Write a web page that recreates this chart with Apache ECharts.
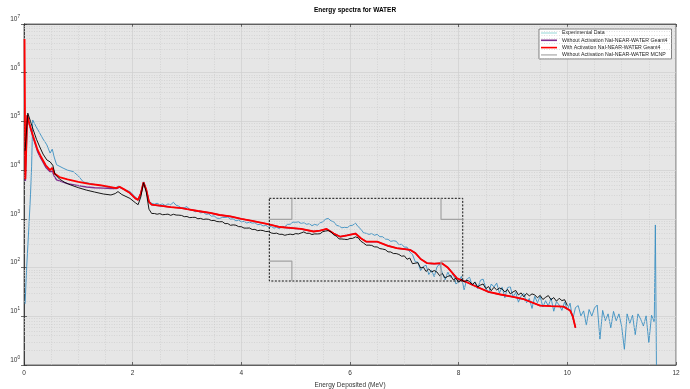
<!DOCTYPE html>
<html><head><meta charset="utf-8">
<script src="https://cdn.jsdelivr.net/npm/echarts@6/dist/echarts.min.js"></script>
<style>html,body{margin:0;padding:0;background:#fff}#c{width:690px;height:389px}</style>
</head><body><div id="c"></div>
<script>
// ---------- data (energy in MeV, counts) ----------
const seriesNames = ['Experimental Data','Without Activation NaI-NEAR-WATER Geant4','With Activation NaI-NEAR-WATER Geant4','Without Activation NaI-NEAR-WATER MCNP'];
const xTicks = [0,2,4,6,8,10,12];

// Experimental data
const expLowE = [0.02,0.05,0.09,0.12,0.14,0.16,0.22,0.29,0.35,0.42,0.48,0.52,0.56,0.6,0.72,0.8,0.91,0.96,1.0,1.03,1.09,1.2,1.34,1.5,1.65,1.74,1.8,1.95,2.05,2.1,2.15,2.2,2.25,2.3];
const expLowCounts = [18,105,690,3200,11700,107000,79000,57500,43600,33100,22400,26900,17800,12900,11000,10000,9300,8300,7600,7900,5750,5370,5000,4570,4170,4680,4170,3630,2820,2510,3390,5750,3980,2290];
const expBinStart = 2.35, expBinStep = 0.05;
const expBinCounts = [
2090,2000,2090,1950,2020,1880,2020,1950,2190,1900,1820,1660,1700,1780,
1550,1510,1400,1450,1330,1360,1240,1260,1135,1150,1035,1020,1070,1070,1085,990,1000,910,945,870,
890,820,860,815,830,760,775,715,735,675,700,645,670,630,700,690,770,775,860,850,
870,805,830,775,795,725,770,740,830,870,990,1020,910,870,740,710,655,670,660,725,
740,820,690,615,515,505,480,500,460,480,430,430,385,380,345,
355,347,295,302,
263,263,209,186,132,129,87,105,112,72,89,65,102,120,76,56,81,63,76,46,
51,66,35,58,63,43,51,37,55,58,38,30,46,40,48,30,40,24,39,40,
25,31,19.5,26.3,29.5,19,23.2,14.5,25.7,19,25.7,15.5,20.9,16.2,23.7,12.7,20,17,13.2,19.7,
13.5,18.6,8.7,15.1,16.6,10.2,12.9,6.6,13.8,10.1,14.8,17,3.4,13.2,8.1,11.2,5.8,12.6,8.1,11.2,
6.2,2.1,11.2,7.2,10.5,4.2,11.2,8.7,6.3,10.2,2.9,10.5,7.6];
const expEndE = [11.62,11.64];
const expEndCounts = [750,1];

// Geant4 without activation
const g4NoActE = [0.025,0.06,0.1,0.17,0.25,0.3,0.4,0.48,0.52,0.56,0.6,0.8,1.0,1.15,1.3,1.46,1.6,1.7,1.76,1.85,1.95,2.05,2.1,2.15,2.2,2.25,2.3,2.35,2.5,2.7,2.9,3.0,3.2,3.43,3.6,3.8,4.0,4.2,4.47,4.71,4.9,5.1,5.33,5.45,5.57,5.7,5.82,5.95,6.1,6.2,6.3,6.5,6.7,6.86,7.0,7.11,7.2,7.3,7.42,7.55,7.69,7.8,7.97,8.15,8.34,8.55,8.77,9.0,9.2,9.5,9.7,9.93,10.05,10.1,10.15];
const g4NoActCounts = [6000,130000,85000,46000,24000,18500,11500,9300,9500,7400,6300,5300,4800,4500,4350,4270,4200,4170,4500,3980,3390,2630,2450,3310,5620,3980,2240,1950,1860,1740,1660,1580,1450,1320,1200,1120,1000,910,790,680,650,620,550,575,620,500,430,460,500,400,340,340,280,250,240,230,200,150,123,120,123,100,60,50,40,31.6,28,25,22.4,16.6,16.2,15.8,13.2,10,5.8];

// Geant4 with activation
const g4ActE = [0.01,0.025,0.06,0.1,0.17,0.25,0.3,0.4,0.48,0.52,0.56,0.65,0.8,1.0,1.2,1.4,1.6,1.7,1.76,1.85,1.95,2.05,2.1,2.15,2.2,2.25,2.3,2.35,2.5,2.7,2.9,3.0,3.2,3.43,3.6,3.8,4.0,4.2,4.47,4.71,4.9,5.1,5.33,5.45,5.57,5.7,5.82,5.95,6.1,6.2,6.3,6.5,6.7,6.86,7.0,7.11,7.2,7.3,7.42,7.55,7.69,7.8,7.97,8.15,8.34,8.55,8.77,9.0,9.2,9.5,9.7,9.93,10.05,10.1,10.15];
const g4ActCounts = [4.9e6,6500,135000,89000,49000,26000,20000,12600,10000,11200,8500,7200,6500,5750,5250,4900,4470,4270,4570,3980,3390,2630,2450,3310,5620,3980,2240,1950,1860,1740,1660,1580,1450,1320,1200,1120,1000,910,790,680,650,620,550,575,620,500,430,460,500,400,340,340,280,250,240,230,200,150,123,120,123,100,60,50,40,31.6,28,25,22.4,16.6,16.2,15.8,13.2,10,5.8];

// MCNP without activation
const mcnpLowE = [0.02,0.07,0.12,0.17,0.23,0.29,0.35,0.42,0.48,0.5,0.53,0.57,0.65,0.75,0.85,1.0,1.15,1.3,1.46,1.6,1.68,1.73,1.8,1.95,2.05,2.1,2.15,2.2,2.25,2.3,2.35];
const mcnpLowCounts = [25000,148000,100000,67000,43000,30000,21400,16200,14800,15100,12600,8300,6600,5600,5000,4370,3890,3550,3240,3090,3310,3630,3160,2630,2140,1950,2820,5500,3550,1580,1290];
const mcnpBinStart = 2.40, mcnpBinStep = 0.05;
const mcnpBinCounts = [
1288,1245,1282,1216,1230,1250,1180,1242,1197,1191,1175,1109,
1117,1059,1072,1076,1005,1021,973,991,977,922,930,881,871,875,797,802,738,752,741,692,
690,646,646,649,605,608,572,584,575,549,553,513,501,509,481,483,460,475,485,473,
499,490,513,539,504,506,477,491,490,495,547,562,575,540,470,441,387,386,380,375,
396,398,427,409,347,319,288,289,285,266,265,245,240,233,210,209,194,194,186,171,
174,148,157,120,123,126,98,102,83,94,81,87,81,68,76,61,66,69,56,60,
50,57,51,55,52,45,50,40,43.7,46,37,40.7,33.5,39.4,34.7,38,36.3,31.6,35.5,28.8,
31.6,33.9,27.5,30.2,25.1,29.5,26.3,28.8,27.5,24,26.9,22.1,24.5,26.6,21.9,24.2,20.4,23.4,21,21.9,
16.6];

// zoom box annotation (MeV, counts)
const boxE = [4.515, 8.075];
const boxCounts = [53, 2640];
const bracketE = [4.93, 7.675];
const bracketCounts = [136, 980];

// ---------- build ----------
function pairs(xs, ys){ return xs.map((x,i)=>[x, ys[i]]); }
function binPairs(start, step, ys){ return ys.map((y,i)=>[+(start+i*step).toFixed(3), y]); }

const expData = pairs(expLowE, expLowCounts).concat(binPairs(expBinStart, expBinStep, expBinCounts), pairs(expEndE, expEndCounts));
const g4NoActData = pairs(g4NoActE, g4NoActCounts);
const g4ActData = pairs(g4ActE, g4ActCounts);
const mcnpData = pairs(mcnpLowE, mcnpLowCounts).concat(binPairs(mcnpBinStart, mcnpBinStep, mcnpBinCounts));

const boxData = [[boxE[0],boxCounts[1]],[boxE[1],boxCounts[1]],[boxE[1],boxCounts[0]],[boxE[0],boxCounts[0]],[boxE[0],boxCounts[1]]];
const brackets = [
  [[boxE[0],bracketCounts[1]],[bracketE[0],bracketCounts[1]],[bracketE[0],boxCounts[1]]],
  [[boxE[1],bracketCounts[1]],[bracketE[1],bracketCounts[1]],[bracketE[1],boxCounts[1]]],
  [[boxE[0],bracketCounts[0]],[bracketE[0],bracketCounts[0]],[bracketE[0],boxCounts[0]]],
  [[boxE[1],bracketCounts[0]],[bracketE[1],bracketCounts[0]],[bracketE[1],boxCounts[0]]]
];

const minorY = [];
for (let n = 0; n < 7; n++) for (let k = 2; k <= 9; k++) minorY.push({yAxis: k * Math.pow(10, n)});

const FONT = 'Liberation Sans';
const chart = echarts.init(document.getElementById('c'), null, {renderer: 'canvas'});

const supLabel = {
  formatter: v => '10{s|' + Math.round(Math.log10(v)) + '}',
  rich: { s: {fontSize: 4.6, verticalAlign: 'top', lineHeight: 10, fontFamily: FONT, color: '#333'} },
  fontSize: 6.5, lineHeight: 10, verticalAlign: 'bottom', color: '#333', fontFamily: FONT, margin: 4
};

const lineSeries = (name, data, color, width, z) => ({
  name, type: 'line', data, showSymbol: false, symbol: 'none', z,
  lineStyle: {color, width}, itemStyle: {color}, silent: true, animation: false
});

const series = [
  {
    name: 'minor', type: 'line', data: [], z: 1, silent: true,
    markLine: {silent: true, symbol: ['none','none'], label: {show: false}, animation: false,
      lineStyle: {type: [1,1.5], color: '#c9c9c9', width: 0.6}, data: minorY}
  },
  lineSeries(seriesNames[0], expData, '#3a8ec2', 0.9, 3),
  lineSeries(seriesNames[1], g4NoActData, '#7e2f8e', 1.4, 4),
  lineSeries(seriesNames[2], g4ActData, '#ff0000', 1.8, 5),
  lineSeries(seriesNames[3], mcnpData, '#000000', 0.9, 6),
  {name: 'box', type: 'line', data: boxData, symbol: 'none', z: 7, silent: true,
   lineStyle: {color: '#111', width: 1, type: [2, 1.5]}}
].concat(brackets.map((b,i) => ({name: 'br' + i, type: 'line', data: b, symbol: 'none', z: 7, silent: true,
   lineStyle: {color: '#a3a3a3', width: 1.2}})));

chart.setOption({
  animation: false,
  backgroundColor: '#ffffff',
  textStyle: {fontFamily: FONT},
  title: {
    text: 'Energy spectra for WATER', left: 350, top: 2, textAlign: 'center',
    textStyle: {fontSize: 6.5, fontWeight: 'bold', color: '#000', fontFamily: FONT}
  },
  grid: {left: 24, right: 14, top: 24, bottom: 24, containLabel: false, outerBoundsMode: 'none',
         show: true, backgroundColor: '#e6e6e6', borderColor: '#333', borderWidth: 0.7},
  legend: {
    data: [
      {name: seriesNames[0], itemStyle: {color: '#bde6e6'}},
      {name: seriesNames[1], itemStyle: {color: '#7e2f8e'}},
      {name: seriesNames[2], itemStyle: {color: '#ff0000'}},
      {name: seriesNames[3], itemStyle: {color: '#bdbdbd'}}
    ],
    orient: 'vertical', left: 539, top: 29, icon: 'rect', itemWidth: 16, itemHeight: 1.6, itemGap: 1.3,
    selectedMode: false, backgroundColor: '#fff', borderColor: '#333', borderWidth: 0.6, padding: [1, 4, 1, 2],
    textStyle: {fontSize: 5.2, lineHeight: 6, color: '#222', fontFamily: FONT}
  },
  xAxis: [
    {type: 'value', min: 0, max: 12, interval: 2, position: 'bottom',
     name: 'Energy Deposited (MeV)', nameLocation: 'middle', nameGap: 14,
     nameTextStyle: {fontSize: 6.5, color: '#333', fontFamily: FONT},
     axisLine: {show: true, lineStyle: {color: '#333', width: 0.7}},
     axisTick: {show: true, inside: true, length: 3, lineStyle: {color: '#333', width: 0.7}},
     axisLabel: {fontSize: 6.5, color: '#333', margin: 5, fontFamily: FONT, formatter: v => xTicks.includes(v) ? String(v) : ''},
     splitLine: {show: true, lineStyle: {color: '#cfcfcf', width: 0.7}},
     minorTick: {show: false, splitNumber: 4},
     minorSplitLine: {show: true, lineStyle: {color: '#c9c9c9', width: 0.6, type: [1,1.5]}}},
    {type: 'value', min: 0, max: 12, interval: 2, position: 'top',
     axisLine: {show: true, lineStyle: {color: '#333', width: 0.7}},
     axisTick: {show: true, inside: true, length: 3, lineStyle: {color: '#333', width: 0.7}},
     axisLabel: {show: false}, splitLine: {show: false}}
  ],
  yAxis: [
    {type: 'log', logBase: 10, min: 1, max: 1e7, splitNumber: 7, position: 'left',
     name: 'Counts', nameLocation: 'middle', nameGap: 13,
     nameTextStyle: {fontSize: 6.5, color: '#333', fontFamily: FONT},
     axisLine: {show: true, lineStyle: {color: '#333', width: 0.7}},
     axisTick: {show: true, inside: true, length: 3, lineStyle: {color: '#333', width: 0.7}},
     axisLabel: supLabel,
     splitLine: {show: true, lineStyle: {color: '#cfcfcf', width: 0.7}}},
    {type: 'log', logBase: 10, min: 1, max: 1e7, splitNumber: 7, position: 'right',
     axisLine: {show: true, lineStyle: {color: '#333', width: 0.7}},
     axisTick: {show: true, inside: true, length: 3, lineStyle: {color: '#333', width: 0.7}},
     axisLabel: {show: false}, splitLine: {show: false}}
  ],
  series
});
</script></body></html>
